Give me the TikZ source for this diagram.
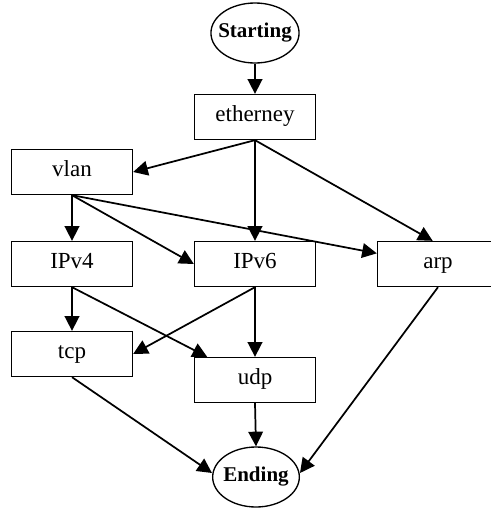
\documentclass[tikz,border=0pt]{standalone}
\usepackage{fontspec}
\setmainfont{Liberation Serif}
\usetikzlibrary{shapes.geometric,arrows.meta}
\begin{document}
\begin{tikzpicture}[x=0.75pt,y=-0.75pt,
  proto/.style={draw,line width=1pt,rectangle,minimum width=90.75pt,minimum height=33.75pt,
    inner sep=0pt,text height=0.7em,text depth=0.04em,font=\fontsize{17.25}{20}\selectfont},
  term/.style={draw,line width=1pt,ellipse,minimum width=65pt,minimum height=45pt,
    inner xsep=-4.2pt,inner ysep=0pt,text height=0.7em,text depth=0.04em,
    font=\fontsize{15.75}{18}\selectfont\bfseries},
  flow/.style={line width=1.3pt,-{Triangle[length=11pt,width=11pt]}}]
\useasboundingbox (0,0) rectangle (491,508);
% terminals
\node[term] (start) at (255,33) {Starting};
\node[term] (end) at (256,477) {Ending};
% protocol layers
\node[proto] (eth)  at (255,117) {etherney};
\node[proto] (vlan) at (72,172)  {vlan};
\node[proto] (ipv4) at (72,264)  {IPv4};
\node[proto] (ipv6) at (255,264) {IPv6};
\node[proto] (arp)  at (438,264) {arp};
\node[proto] (tcp)  at (72,354)  {tcp};
\node[proto] (udp)  at (255,380) {udp};
% parsing transitions
\draw[flow] (start.south) -- (eth.north);
\draw[flow] (eth.south) -- (vlan.east);
\draw[flow] (eth.south) -- (ipv6.north);
\draw[flow] (eth.south) -- ([xshift=-4pt]arp.north);
\draw[flow] (vlan.south) -- (ipv4.north);
\draw[flow] (vlan.south) -- (ipv6.west);
\draw[flow] (vlan.south) -- ([yshift=8pt]arp.west);
\draw[flow] (ipv4.south) -- (tcp.north);
\draw[flow] (ipv4.south) -- ([xshift=10pt]udp.north west);
\draw[flow] (ipv6.south) -- (tcp.east);
\draw[flow] (ipv6.south) -- (udp.north);
\draw[flow] (tcp.south) -- ([yshift=3pt]end.west);
\draw[flow] (udp.south) -- (end.north);
\draw[flow] (arp.south) -- ([yshift=3pt]end.east);
\end{tikzpicture}
\end{document}
